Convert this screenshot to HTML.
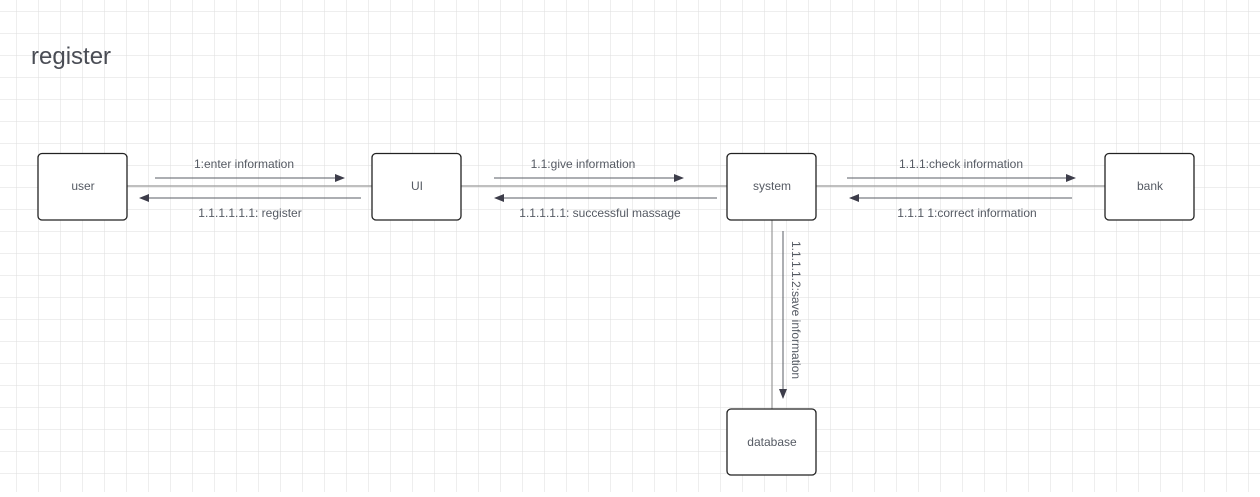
<!DOCTYPE html>
<html><head><style>
body{margin:0;width:1260px;height:492px;overflow:hidden;background:#fff;font-family:"Liberation Sans",sans-serif}
</style></head><body>
<svg width="1260" height="492" xmlns="http://www.w3.org/2000/svg">
<defs>
<pattern id="g" x="16" y="11" width="22" height="22" patternUnits="userSpaceOnUse">
<path d="M0 0H22M0 0V22" stroke="#dedede" stroke-width="1" fill="none"/>
</pattern>
<marker id="a" markerWidth="10" markerHeight="8" refX="9" refY="4" orient="auto" markerUnits="userSpaceOnUse">
<path d="M0 0L10 4L0 8Z" fill="#3d3d4a"/></marker>
</defs>
<rect width="1260" height="492" fill="url(#g)"/>
<text x="31" y="64" font-size="24" fill="#4a4d55">register</text>
<g stroke="#999" stroke-width="1.2">
<line x1="127" y1="186" x2="372" y2="186"/>
<line x1="461" y1="186" x2="727" y2="186"/>
<line x1="816" y1="186" x2="1105" y2="186"/>
<line x1="772" y1="220" x2="772" y2="409"/>
</g>
<g stroke="#5a5d66" stroke-width="1" marker-end="url(#a)">
<line x1="155" y1="178" x2="344" y2="178"/>
<line x1="361" y1="198" x2="140" y2="198"/>
<line x1="494" y1="178" x2="683" y2="178"/>
<line x1="717" y1="198" x2="495" y2="198"/>
<line x1="847" y1="178" x2="1075" y2="178"/>
<line x1="1072" y1="198" x2="850" y2="198"/>
<line x1="783" y1="231" x2="783" y2="398"/>
</g>
<g fill="#fff" stroke="#222" stroke-width="1.3">
<rect x="38" y="153.5" width="89" height="66.5" rx="4"/>
<rect x="372" y="153.5" width="89" height="66.5" rx="4"/>
<rect x="727" y="153.5" width="89" height="66.5" rx="4"/>
<rect x="1105" y="153.5" width="89" height="66.5" rx="4"/>
<rect x="727" y="409" width="89" height="66" rx="4"/>
</g>
<g font-size="12" fill="#555a63" text-anchor="middle">
<text x="83" y="190">user</text>
<text x="417" y="190">UI</text>
<text x="772" y="190">system</text>
<text x="1150" y="190">bank</text>
<text x="772" y="446">database</text>
<text x="244" y="168">1:enter information</text>
<text x="250" y="217">1.1.1.1.1.1: register</text>
<text x="583" y="168">1.1:give information</text>
<text x="600" y="217">1.1.1.1.1: successful massage</text>
<text x="961" y="168">1.1.1:check information</text>
<text x="967" y="217">1.1.1 1:correct information</text>
<text x="0" y="0" transform="translate(792,310) rotate(90)">1.1.1.1.2:save information</text>
</g>
</svg>
</body></html>
